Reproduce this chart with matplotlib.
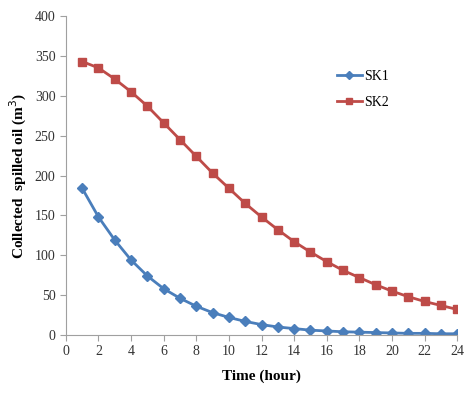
import matplotlib
matplotlib.use("Agg")
import matplotlib.pyplot as plt

hours = list(range(1, 25))
sk1 = [184, 148, 119, 94, 74, 58, 46, 36, 28, 22, 17, 13, 10, 8, 6, 5, 4, 3.5, 3, 2.5, 2, 2, 1.5, 1.5]
sk2 = [343, 335, 321, 305, 287, 266, 245, 224, 203, 184, 165, 148, 132, 117, 104, 92, 81, 72, 63, 55, 48, 42, 37, 32]
xticks = list(range(0, 25, 2))
yticks = list(range(0, 401, 50))

plt.rcParams['font.family'] = ['Liberation Serif', 'DejaVu Serif']

fig = plt.figure(figsize=(4.67, 4.12), dpi=100)
ax = fig.add_axes([0.141, 0.187, 0.838, 0.774])

ax.plot(hours, sk1, color='#4A7EBB', marker='D', markersize=5.5, linewidth=2, label='SK1')
ax.plot(hours, sk2, color='#BE4B48', marker='s', markersize=5.5, linewidth=2, label='SK2')

ax.set_xlim(0, 24)
ax.set_ylim(0, 400)
ax.set_xticks(xticks)
ax.set_yticks(yticks)
for s in ['top', 'right']:
    ax.spines[s].set_visible(False)
for s in ['left', 'bottom']:
    ax.spines[s].set_color('#A0A0A0')
ax.tick_params(axis='both', colors='#A0A0A0', labelcolor='#333333', labelsize=10, length=4, direction='out')

ax.set_xlabel('Time (hour)', fontsize=11, fontweight='bold', labelpad=8)
ax.set_ylabel('Collected  spilled oil (m$^{3}$)', fontsize=11, fontweight='bold', labelpad=4)

ax.legend(loc='upper left', bbox_to_anchor=(0.66, 0.87), frameon=False, fontsize=10,
          handlelength=1.8, handletextpad=0.2, labelspacing=0.9, markerscale=0.8)

fig.savefig('out.png', dpi=100)
